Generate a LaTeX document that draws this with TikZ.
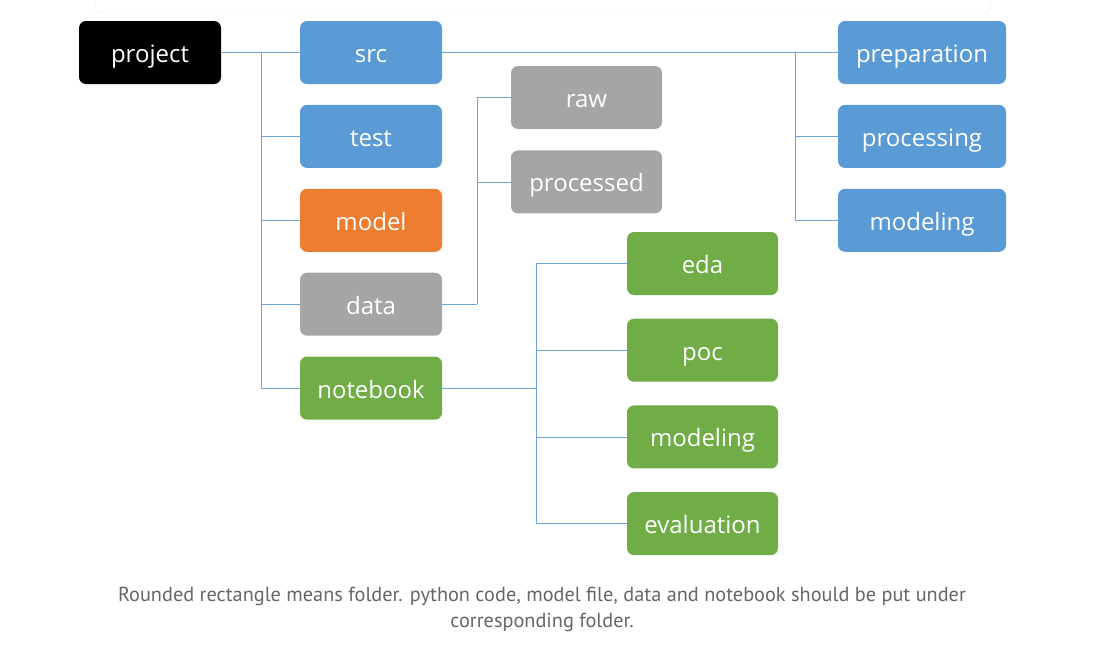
\documentclass[tikz,border=0pt]{standalone}
\usepackage{fontspec}
\setmainfont{Open Sans}
\newfontfamily\capfont{PT Sans}
\usetikzlibrary{positioning}
\definecolor{fblue}{HTML}{5B9BD5}
\definecolor{forange}{HTML}{ED7D31}
\definecolor{fgray}{HTML}{A5A5A5}
\definecolor{fgreen}{HTML}{70AD47}
\definecolor{captext}{HTML}{666666}
\definecolor{frame}{HTML}{E8E8E8}
\tikzstyle{link} = [draw=fblue!90,line width=0.8pt]

\begin{document}
\begin{tikzpicture}[x=1pt,y=-1pt,
    folder/.style={rectangle,rounded corners=7pt,text=white,inner sep=0pt,
      minimum height=63pt,text height=24pt,text depth=4pt,
      font=\fontsize{24}{28}\selectfont},
    top/.style={folder,fill=black,minimum width=142pt},
    lvl/.style={folder,minimum width=142pt},
    sub/.style={folder,minimum width=151pt},
    wide/.style={folder,fill=fblue,minimum width=168pt},
    ]
    \useasboundingbox (0,0) rectangle (1105,646);
    \draw[frame,rounded corners=8pt] (95,-20) rectangle (990,14);

    \node [top] (project) at (150,52.5) {project};
    \node [lvl,fill=fblue] (src) at (371,52.5) {src};
    \node [lvl,fill=fblue,below=20.5pt of src] (test) {test};
    \node [lvl,fill=forange,below=20.5pt of test] (model) {model};
    \node [lvl,fill=fgray,below=20.5pt of model] (data) {data};
    \node [lvl,fill=fgreen,below=20.5pt of data] (notebook) {notebook};

    \node [sub,fill=fgray] (raw) at (586.5,97.5) {raw};
    \node [sub,fill=fgray,below=21pt of raw] (processed) {processed};

    \node [wide] (preparation) at (922,52.5) {preparation};
    \node [wide,below=20.5pt of preparation] (processing) {processing};
    \node [wide,below=20.5pt of processing] (modeling) {modeling};

    \node [sub,fill=fgreen] (eda) at (702.5,263.5) {eda};
    \node [sub,fill=fgreen,below=23.3pt of eda] (poc) {poc};
    \node [sub,fill=fgreen,below=23.3pt of poc] (nbmodeling) {modeling};
    \node [sub,fill=fgreen,below=23.3pt of nbmodeling] (evaluation) {evaluation};

    % branch points
    \path (project.east) ++(40,0) coordinate (pj);
    \path (data.east) ++(35,0) coordinate (dj);
    \path (src.east) ++(353,0) coordinate (sj);
    \path (notebook.east) ++(94,0) coordinate (nj);

    \draw[link] (project) -- (src);
    \draw[link] (pj) |- (test.west);
    \draw[link] (pj) |- (model.west);
    \draw[link] (pj) |- (data.west);
    \draw[link] (pj) |- (notebook.west);

    \draw[link] (data.east) -- (dj);
    \draw[link] (dj) |- (raw.west);
    \draw[link] (dj) |- (processed.west);

    \draw[link] (src) -- (preparation);
    \draw[link] (sj) |- (processing.west);
    \draw[link] (sj) |- (modeling.west);

    \draw[link] (notebook.east) -- (nj);
    \draw[link] (nj) |- (eda.west);
    \draw[link] (nj) |- (poc.west);
    \draw[link] (nj) |- (nbmodeling.west);
    \draw[link] (nj) |- (evaluation.west);

    \node [align=center,text=captext,font=\capfont\fontsize{20.3}{26}\selectfont] (caption) at (542,609)
      {Rounded rectangle means folder. python code, model file, data and notebook should be put under\\corresponding folder.};
\end{tikzpicture}
\end{document}
